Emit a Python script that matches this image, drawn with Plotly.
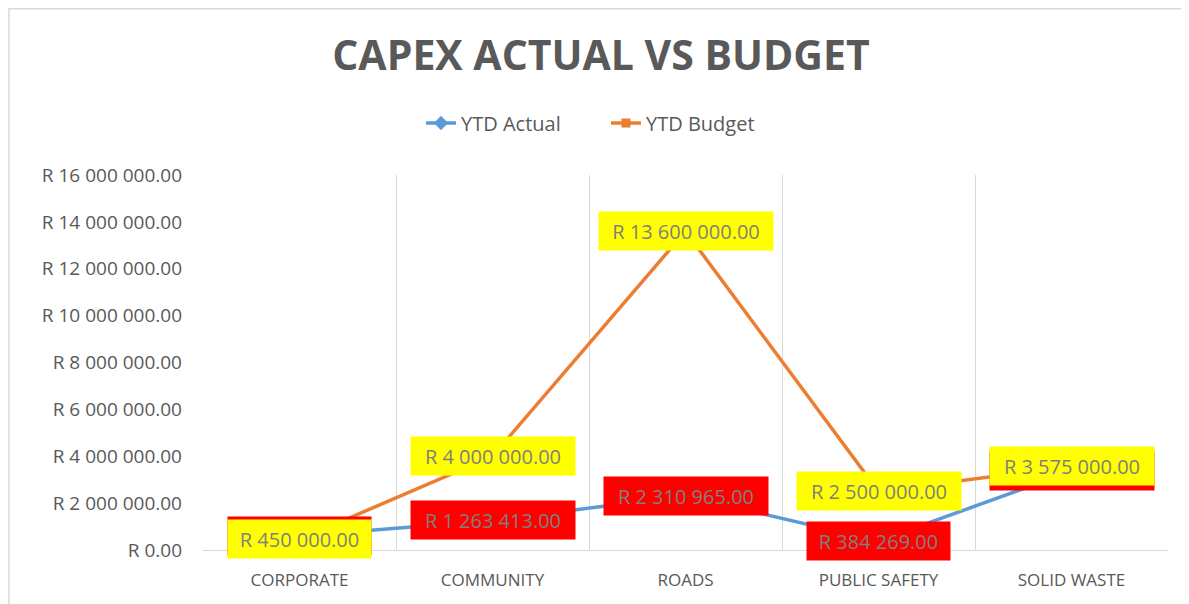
import plotly.graph_objects as go

categories = ["CORPORATE", "COMMUNITY", "ROADS", "PUBLIC SAFETY", "SOLID WASTE"]
ytd_actual = [600000, 1263413, 2310965, 384269, 3360000]
ytd_budget = [450000, 4000000, 13600000, 2500000, 3575000]
actual_labels = ["R 600 000.00", "R 1 263 413.00", "R 2 310 965.00", "R 384 269.00", "R 3 360 000.00"]
budget_labels = ["R 450 000.00", "R 4 000 000.00", "R 13 600 000.00", "R 2 500 000.00", "R 3 575 000.00"]
y_tick_vals = [0, 2000000, 4000000, 6000000, 8000000, 10000000, 12000000, 14000000, 16000000]
y_tick_text = ["R 0.00", "R 2 000 000.00", "R 4 000 000.00", "R 6 000 000.00", "R 8 000 000.00",
               "R 10 000 000.00", "R 12 000 000.00", "R 14 000 000.00", "R 16 000 000.00"]

BLUE = "#5B9BD5"
ORANGE = "#ED7D31"
GRAY = "#595959"
FONT = "Open Sans"

# page body has an 8px margin; figure coords = reference coords - 8
W, H = 1181, 596
L, R, T, B = 195, 21, 167, 54
PW, PH = W - L - R, H - T - B


def label_width(text):
    return round(len(text) * 10.4) + 4


fig = go.Figure()
fig.add_trace(go.Scatter(x=categories, y=ytd_actual, name="YTD Actual", mode="lines+markers",
                         line=dict(color=BLUE, width=3.5),
                         marker=dict(symbol="diamond", size=11, color=BLUE)))
fig.add_trace(go.Scatter(x=categories, y=ytd_budget, name="YTD Budget", mode="lines+markers",
                         line=dict(color=ORANGE, width=3.5),
                         marker=dict(symbol="square", size=9, color=ORANGE)))

annotations = []
for c, v, t in zip(categories, ytd_actual, actual_labels):
    annotations.append(dict(x=c, y=v, xref="x", yref="y", text=t, showarrow=False,
                            bgcolor="#FF0000", borderpad=7, height=24, width=label_width(t),
                            font=dict(family=FONT, size=20, color="#7F7F7F")))
for c, v, t in zip(categories, ytd_budget, budget_labels):
    annotations.append(dict(x=c, y=v, xref="x", yref="y", text=t, showarrow=False,
                            bgcolor="#FFFF00", borderpad=7, height=24, width=label_width(t),
                            font=dict(family=FONT, size=20, color="#7F7F7F")))

fig.update_layout(
    width=W, height=H,
    margin=dict(l=L, r=R, t=T, b=B),
    paper_bgcolor="white", plot_bgcolor="white",
    title=dict(text="<b>CAPEX ACTUAL VS BUDGET</b>", xref="container", x=(601 - 8) / W, xanchor="center",
               yref="container", y=1 - (56 - 8) / H, yanchor="middle",
               font=dict(family=FONT, size=41, color=GRAY)),
    legend=dict(orientation="h", xref="container", x=(606 - 8) / W, xanchor="center",
                yref="container", y=1 - (123 - 8) / H, yanchor="middle",
                font=dict(family=FONT, size=20, color=GRAY), entrywidth=140,
                bgcolor="rgba(0,0,0,0)"),
    annotations=annotations,
    shapes=[dict(type="rect", xref="paper", yref="paper",
                 x0=(1 - L) / PW, x1=(1200 - 8 - L) / PW,
                 y0=-(620 - 8 - (H - B)) / PH, y1=((H - B) - 0.75) / PH,
                 line=dict(color="#D9D9D9", width=1.5), layer="below")],
)
fig.update_xaxes(type="category", range=[-0.5, 4.5], tickson="boundaries",
                 showgrid=True, gridcolor="#D9D9D9", gridwidth=1,
                 showline=True, linecolor="#D9D9D9", linewidth=1,
                 ticks="", ticklabelstandoff=15,
                 tickfont=dict(family=FONT, size=17, color=GRAY), zeroline=False)
fig.update_yaxes(range=[0, 16000000], tickvals=y_tick_vals, ticktext=y_tick_text,
                 showgrid=False, zeroline=False, showline=False, ticks="",
                 ticklabelstandoff=20,
                 tickfont=dict(family=FONT, size=19, color=GRAY))

fig.write_html("out.html")
